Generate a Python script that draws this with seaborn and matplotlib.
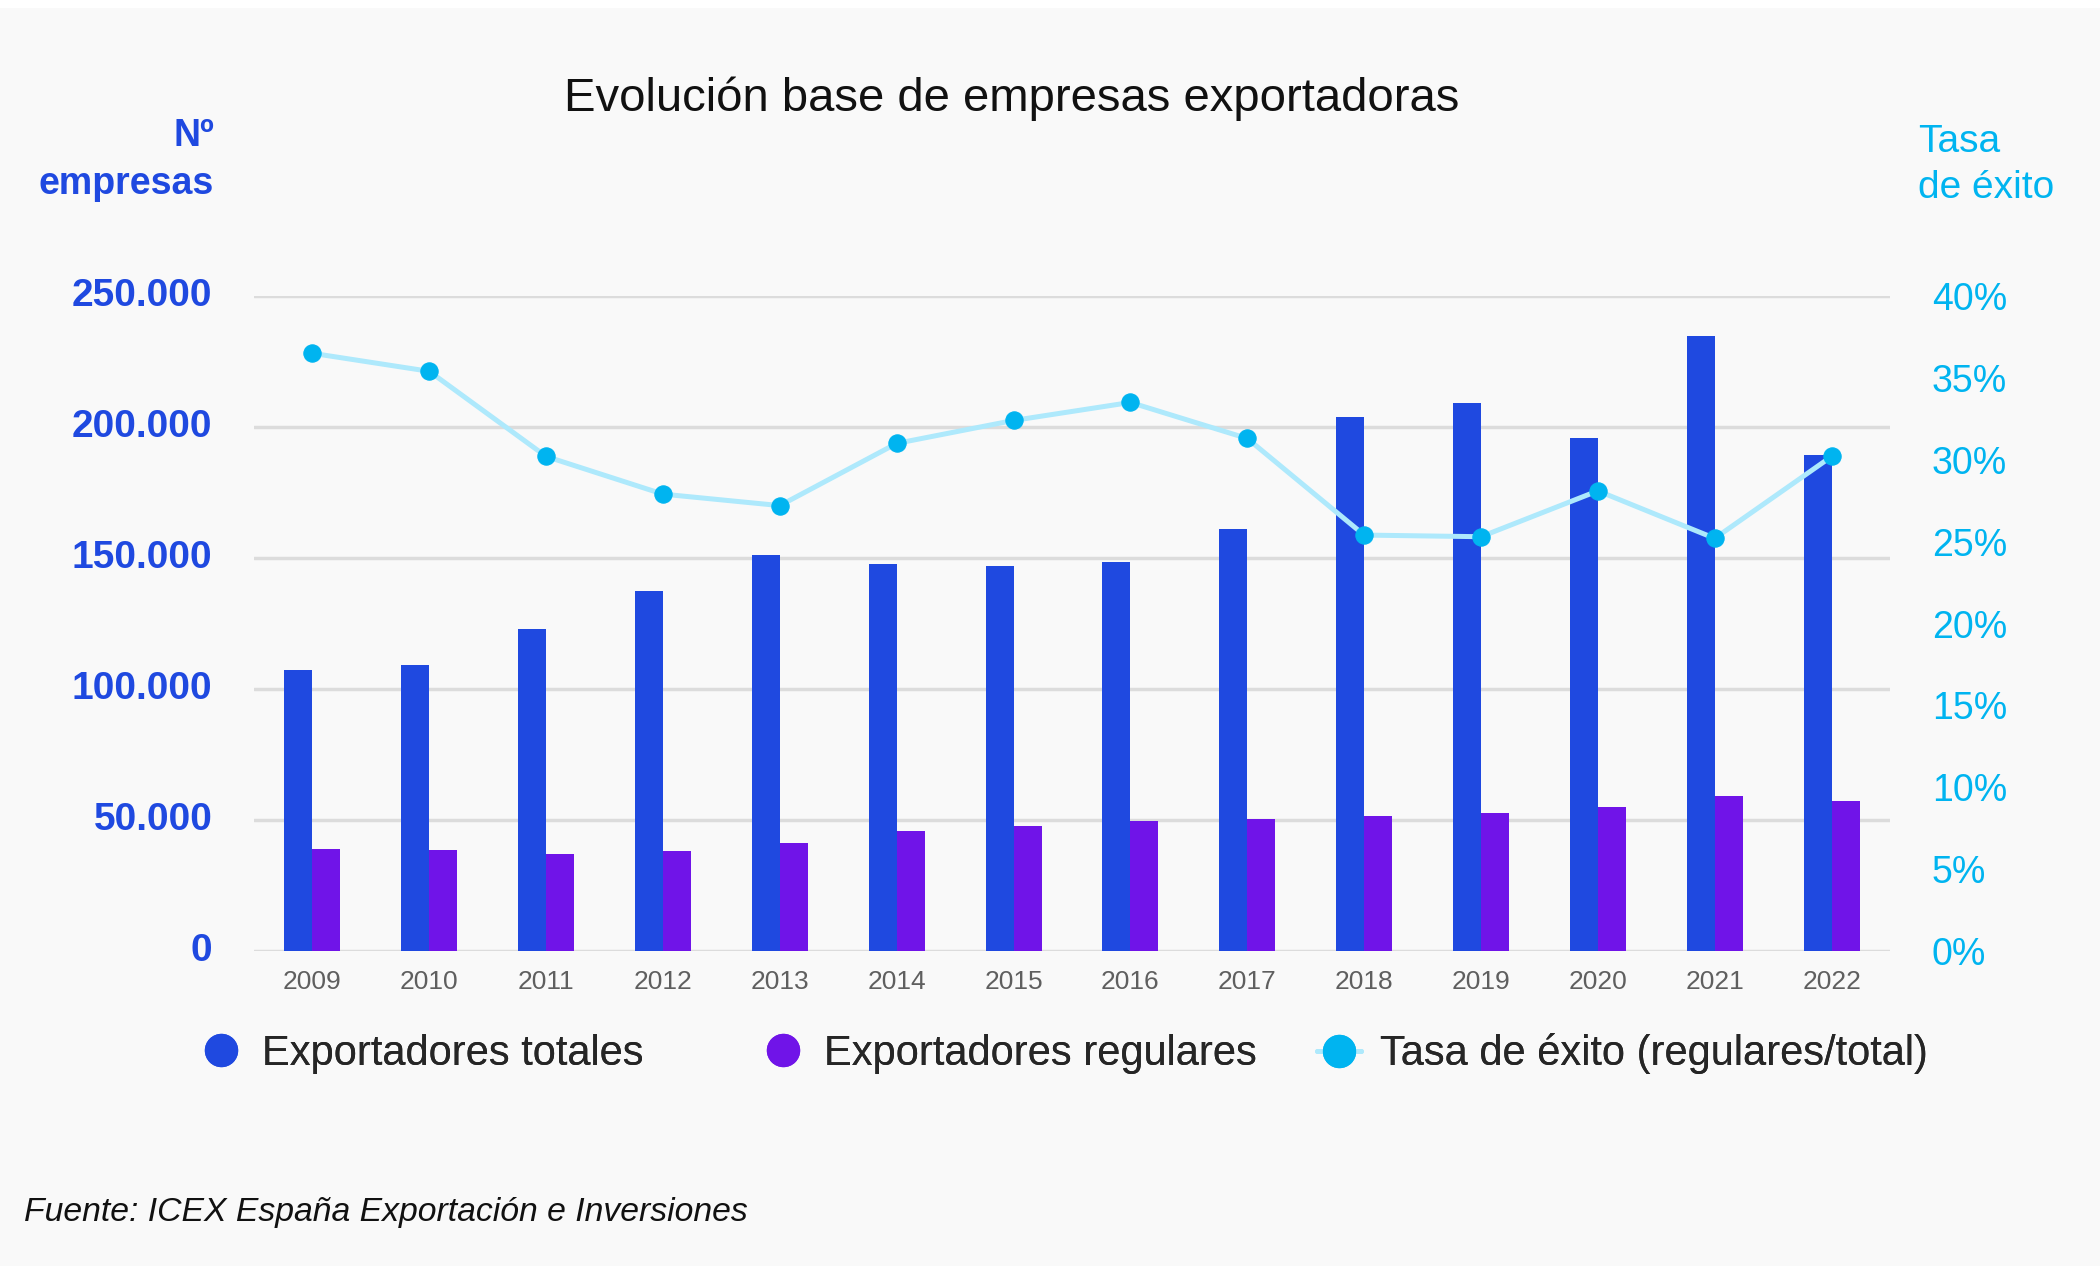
import numpy as np
import pandas as pd
import matplotlib.pyplot as plt
from matplotlib.lines import Line2D
from matplotlib.patches import Rectangle
from matplotlib.ticker import FuncFormatter, FixedLocator
from matplotlib.transforms import ScaledTranslation
import seaborn as sns

# datos
years = ["2009", "2010", "2011", "2012", "2013", "2014", "2015",
         "2016", "2017", "2018", "2019", "2020", "2021", "2022"]
totales = [107350, 109140, 122910, 137340, 150960, 147670, 147130,
           148430, 161170, 203750, 209110, 195870, 234890, 189210]
regulares = [39020, 38490, 36960, 38260, 41050, 45640, 47550,
             49580, 50500, 51640, 52790, 55090, 59030, 57110]
tasa = [36.5, 35.4, 30.2, 27.9, 27.2, 31.0, 32.4,
        33.5, 31.3, 25.4, 25.3, 28.1, 25.2, 30.2]

left_ticks = [0, 50000, 100000, 150000, 200000, 250000]
right_ticks = [0, 5, 10, 15, 20, 25, 30, 35, 40]

BLUE = "#1f49e0"
PURPLE = "#7014e8"
CYAN = "#00b4f0"
LIGHT = "#aee9fc"
BG = "#f9f9f9"

sns.set_theme(style="white")
plt.rcParams["font.family"] = ["Liberation Sans", "DejaVu Sans"]

df = pd.DataFrame({
    "year": years * 2,
    "serie": ["Exportadores totales"] * len(years) + ["Exportadores regulares"] * len(years),
    "valor": totales + regulares,
})

fig = plt.figure(figsize=(21, 12.66), dpi=100, facecolor="white")
fig.patches.append(Rectangle((0, 0), 1, 1 - 8 / 1266, transform=fig.transFigure,
                             facecolor=BG, edgecolor="none", zorder=-10))
ax = fig.add_axes([254 / 2100, 1 - 951 / 1266, (1890 - 254) / 2100, (951 - 296) / 1266])
ax.set_facecolor("none")

sns.barplot(data=df, x="year", y="valor", hue="serie", palette=[BLUE, PURPLE],
            width=0.48, gap=0, saturation=1, linewidth=0, legend=False, ax=ax)
ax.set_ylim(0, 250000)
ax.set_xlim(-0.5, len(years) - 0.5)
ax.yaxis.set_major_locator(FixedLocator(left_ticks))
ax.yaxis.set_major_formatter(FuncFormatter(lambda v, p: f"{int(v):,}".replace(",", ".")))
ax.yaxis.grid(True, color="#dcdcdc", linewidth=2.5)
ax.set_axisbelow(True)
ax.set_xlabel("")
ax.set_ylabel("")
for s in ax.spines.values():
    s.set_visible(False)
ax.tick_params(axis="y", length=0, pad=30, labelsize=28, labelcolor=BLUE)
ax.tick_params(axis="x", length=0, pad=14, labelsize=19, labelcolor="#5f5f5f")
shift_up = ScaledTranslation(0, 4 / 100, fig.dpi_scale_trans)
for t in ax.get_yticklabels():
    t.set_fontweight("bold")
    t.set_transform(t.get_transform() + shift_up)

ax2 = ax.twinx()
sns.lineplot(x=np.arange(len(years)), y=tasa, ax=ax2, color=LIGHT, linewidth=3.6,
             marker="o", markersize=12.5, markerfacecolor=CYAN, markeredgecolor=CYAN)
ax2.set_ylim(0, 40)
ax2.set_xlim(-0.5, len(years) - 0.5)
ax2.yaxis.set_major_locator(FixedLocator(right_ticks))
ax2.yaxis.set_major_formatter(FuncFormatter(lambda v, p: f"{int(v)}%"))
ax2.tick_params(axis="y", length=0, pad=30, labelsize=27, labelcolor=CYAN)
ax2.set_ylabel("")
for s in ax2.spines.values():
    s.set_visible(False)

# textos
fig.text(1012 / 2100, 1 - 99 / 1266, "Evolución base de empresas exportadoras",
         ha="center", va="center", fontsize=34, color="#111111")
fig.text(214 / 2100, 1 - 160 / 1266, "Nº\nempresas", ha="right", va="center",
         fontsize=27, fontweight="bold", color=BLUE, linespacing=1.45, multialignment="right")
fig.text(1918 / 2100, 1 - 165 / 1266, "Tasa\nde éxito", ha="left", va="center",
         fontsize=28, color=CYAN, linespacing=1.38)
fig.text(24 / 2100, 1 - 1213 / 1266, "Fuente: ICEX España Exportación e Inversiones",
         ha="left", va="center", fontsize=24.3, style="italic", color="#111111")

# leyenda
handles = [
    Line2D([], [], marker="o", linestyle="none", markersize=23, color=BLUE),
    Line2D([], [], marker="o", linestyle="none", markersize=23, color=PURPLE),
    Line2D([], [], marker="o", color=LIGHT, linewidth=3.6, markersize=23,
           markerfacecolor=CYAN, markeredgecolor=CYAN),
]
labels = ["Exportadores totales", "Exportadores regulares", "Tasa de éxito (regulares/total)"]
anchors = [199, 761, 1317]
for h, l, x in zip(handles, labels, anchors):
    leg = fig.legend([h], [l], loc="center left", bbox_to_anchor=(x / 2100, 1 - 1054 / 1266),
                     frameon=False, fontsize=30, handlelength=1.05, handletextpad=0.46,
                     borderpad=0, borderaxespad=0)
    fig.add_artist(leg)

fig.savefig("out.png", dpi=100, facecolor=fig.get_facecolor())
